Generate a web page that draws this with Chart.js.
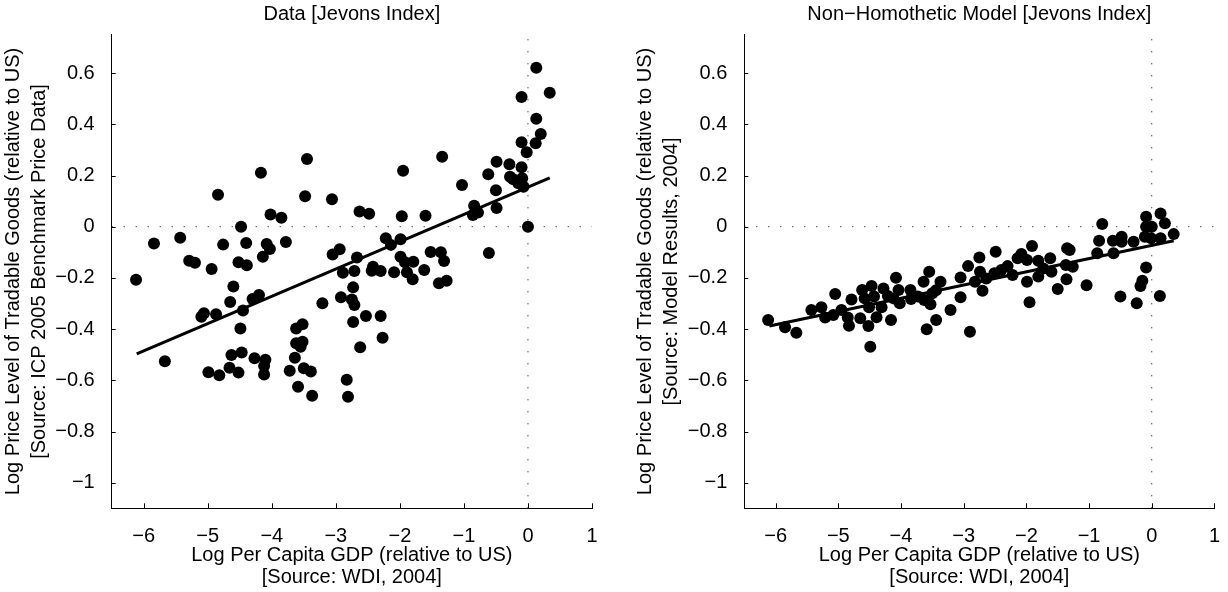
<!DOCTYPE html>
<html>
<head>
<meta charset="utf-8">
<title>Jevons Index: data vs model</title>
<script src="https://cdn.jsdelivr.net/npm/chart.js@4/dist/chart.umd.min.js"></script>
<style>
  body { margin: 0; background: #fff; }
  canvas { position: absolute; top: 0; }
</style>
</head>
<body>
<canvas id="dataChart" width="614" height="592" style="left:0"></canvas>
<canvas id="modelChart" width="614" height="592" style="left:614px"></canvas>
<script>
// AXES
var xTicks = [-6, -5, -4, -3, -2, -1, 0, 1];
var yTicks = [-1, -0.8, -0.6, -0.4, -0.2, 0, 0.2, 0.4, 0.6];
var xRange = [-6.5, 1];
var yRange = [-1.1, 0.75];

// LEFT PANEL - ICP 2005 data
var dataGdp = [-4.84, -4.17, -3.45, -3.48, -3.06, -2.63, -4.02, -3.85, -4.48, -5.84,
  -5.43, -4.76, -4.40, -4.08, -4.03, -3.78, -5.29, -5.20, -4.94, -4.52,
  -4.39, -4.14, -3.05, -2.94, -2.67, -6.12, -4.60, -2.89, -2.71, -2.73,
  -4.65, -4.30, -4.20, -4.45, -3.21, -2.92, -2.75, -2.71, -5.06, -5.10,
  -4.87, -4.49, -2.73, -3.62, -3.52, -3.62, -3.52, -3.55, -2.62, -5.67,
  -4.63, -4.47, -4.27, -4.10, -3.64, -4.99, -4.82, -4.66, -4.52, -4.12,
  -4.12, -3.72, -3.50, -3.39, -3.59, -3.37, -2.83, -2.81, 0.13, 0.34,
  -0.10, 0.13, 0.20, -0.10, 0.12, -0.02, -1.34, -0.49, -0.29, -0.10,
  -1.95, -0.62, -0.28, -0.23, -0.09, -0.15, -0.07, -1.03, -0.50, -2.48,
  -1.97, -1.60, -0.84, -0.86, -0.78, -0.49, 0.00, -2.22, -1.99, -2.14,
  -1.52, -1.36, -1.31, -0.61, -1.99, -1.92, -1.79, -2.42, -2.44, -2.30,
  -2.09, -1.89, -1.62, -1.80, -1.39, -1.27, -2.53, -2.30, -2.27];
var dataPrice = [0.125, 0.211, 0.264, 0.119, 0.107, 0.059, 0.048, 0.035, 0.000, -0.066,
  -0.043, -0.070, -0.064, -0.068, -0.087, -0.060, -0.133, -0.141, -0.165, -0.139,
  -0.151, -0.117, -0.109, -0.088, -0.120, -0.207, -0.234, -0.180, -0.173, -0.237,
  -0.294, -0.282, -0.267, -0.327, -0.299, -0.276, -0.284, -0.306, -0.338, -0.352,
  -0.342, -0.398, -0.372, -0.398, -0.381, -0.455, -0.449, -0.469, -0.471, -0.526,
  -0.501, -0.491, -0.514, -0.520, -0.512, -0.569, -0.580, -0.551, -0.570, -0.544,
  -0.577, -0.563, -0.553, -0.566, -0.625, -0.660, -0.598, -0.664, 0.621, 0.523,
  0.507, 0.422, 0.362, 0.330, 0.326, 0.291, 0.273, 0.254, 0.244, 0.232,
  0.219, 0.205, 0.195, 0.185, 0.189, 0.170, 0.156, 0.163, 0.142, 0.051,
  0.041, 0.043, 0.082, 0.046, 0.055, 0.073, 0.000, -0.045, -0.049, -0.071,
  -0.099, -0.100, -0.134, -0.103, -0.117, -0.139, -0.137, -0.156, -0.172, -0.173,
  -0.178, -0.178, -0.169, -0.205, -0.221, -0.211, -0.349, -0.349, -0.434];
var dataFitGdp = [-6.11, 0.34];
var dataFitPrice = [-0.497, 0.191];

// RIGHT PANEL - model results
var modelGdp = [-6.12, -5.85, -5.67, -5.43, -5.27, -5.21, -5.05, -5.08, -4.95, -4.85,
  -4.83, -4.79, -4.65, -4.62, -4.58, -4.52, -4.51, -4.47, -4.49, -4.39,
  -4.31, -4.43, -4.28, -4.16, -4.08, -4.04, -4.02, -4.12, -3.85, -3.84,
  -3.64, -3.55, -3.63, -3.53, -3.59, -3.44, -3.37, -3.50, -3.21, -4.21,
  -3.73, -3.44, -3.05, -2.90, -3.05, -2.93, -2.75, -2.74, -2.82, -2.70,
  -2.64, -2.49, -2.51, -2.40, -2.30, -2.22, -2.14, -2.08, -1.99, -1.99,
  -1.95, -1.91, -1.81, -1.81, -1.73, -1.62, -1.60, -1.50, -1.36, -1.37,
  -1.35, -1.31, -1.26, -1.04, -0.87, -0.84, -0.79, -0.62, -0.61, -0.48,
  -0.48, -0.50, -0.29, -0.24, -0.18, -0.15, -0.09, -0.09, -0.09, 0.00,
  -0.11, -0.01, 0.14, 0.21, 0.14, 0.35, 0.13];
var modelPrice = [-0.364, -0.393, -0.414, -0.325, -0.315, -0.355, -0.263, -0.345, -0.325, -0.355,
  -0.387, -0.284, -0.358, -0.247, -0.280, -0.388, -0.315, -0.232, -0.469, -0.354,
  -0.315, -0.273, -0.241, -0.364, -0.199, -0.247, -0.299, -0.280, -0.247, -0.282,
  -0.215, -0.176, -0.286, -0.303, -0.401, -0.364, -0.215, -0.260, -0.325, -0.271,
  -0.273, -0.248, -0.276, -0.410, -0.198, -0.154, -0.120, -0.176, -0.215, -0.250,
  -0.202, -0.098, -0.182, -0.169, -0.154, -0.189, -0.123, -0.107, -0.130, -0.215,
  -0.295, -0.075, -0.133, -0.195, -0.163, -0.123, -0.176, -0.243, -0.205, -0.150,
  -0.084, -0.091, -0.156, -0.229, -0.104, -0.055, 0.011, -0.055, -0.104, -0.039,
  -0.059, -0.273, -0.059, -0.299, -0.232, -0.211, -0.159, 0.039, 0.000, 0.000,
  -0.039, -0.045, 0.052, 0.013, -0.045, -0.029, -0.271];
var modelFitGdp = [-6.10, 0.35];
var modelFitPrice = [-0.388, -0.055];

var FONT = '"Liberation Sans", Arial, Helvetica, sans-serif';

function toPoints(xs, ys) {
  var pts = [];
  for (var i = 0; i < xs.length; i++) {
    pts.push({x: xs[i], y: ys[i]});
  }
  return pts;
}

// matlab style labels: real minus sign, no trailing zeros
function tickLabel(value) {
  return String(Math.round(value * 10) / 10).replace('-', '\u2212');
}

// matlab look: title centred on the axes, short ticks drawn inside
var matlabAxes = {
  id: 'matlabAxes',
  afterLayout: function (chart) {
    var t = chart.titleBlock;
    if (t) {
      t.left = chart.chartArea.left;
      t.right = chart.chartArea.right;
      t.width = t.right - t.left;
    }
  },
  afterDraw: function (chart) {
    var ctx = chart.ctx;
    var area = chart.chartArea;
    var xs = chart.scales.x;
    var ys = chart.scales.y;
    ctx.save();
    ctx.strokeStyle = '#000';
    ctx.lineWidth = 1;
    ctx.beginPath();
    xTicks.forEach(function (v) {
      var px = Math.round(xs.getPixelForValue(v)) + 0.5;
      ctx.moveTo(px, area.bottom);
      ctx.lineTo(px, area.bottom - 5);
    });
    yTicks.forEach(function (v) {
      var py = Math.round(ys.getPixelForValue(v)) + 0.5;
      ctx.moveTo(area.left, py);
      ctx.lineTo(area.left + 4, py);
    });
    ctx.stroke();
    ctx.restore();
  }
};

function dotted(xs, ys) {
  return {
    type: 'line',
    data: toPoints(xs, ys),
    borderColor: '#000',
    borderWidth: 1,
    borderDash: [1, 11],
    pointRadius: 0,
    fill: false
  };
}

function makeChart(id, title, yTitle, gdp, price, fitGdp, fitPrice, pad) {
  return new Chart(document.getElementById(id), {
    type: 'scatter',
    data: {
      datasets: [
        {type: 'line', data: toPoints(fitGdp, fitPrice), borderColor: '#000', borderWidth: 3, pointRadius: 0, fill: false},
        {data: toPoints(gdp, price), backgroundColor: '#000', borderWidth: 0, pointRadius: 6, pointHoverRadius: 6},
        dotted(xRange, [0, 0]),
        dotted([0, 0], yRange)
      ]
    },
    options: {
      responsive: false,
      animation: false,
      events: [],
      layout: {padding: pad},
      plugins: {
        legend: {display: false},
        tooltip: {enabled: false},
        title: {
          display: true,
          text: title,
          color: '#000',
          font: {family: FONT, size: 20, weight: 'normal', lineHeight: 1.2},
          padding: {top: 2, bottom: 8.7}
        }
      },
      scales: {
        x: {
          type: 'linear',
          min: xRange[0],
          max: xRange[1],
          grid: {display: false},
          border: {display: true, color: '#000', width: 1},
          afterBuildTicks: function (s) { s.ticks = xTicks.map(function (v) { return {value: v}; }); },
          afterFit: function (s) { s.height = 83.7; },
          ticks: {color: '#000', font: {family: FONT, size: 20}, padding: 8, autoSkip: false, maxRotation: 0, callback: tickLabel},
          title: {
            display: true,
            text: ['Log Per Capita GDP (relative to US)', '[Source: WDI, 2004]'],
            color: '#000',
            font: {family: FONT, size: 20, lineHeight: 1.1},
            padding: {top: 0, bottom: 4}
          }
        },
        y: {
          type: 'linear',
          min: yRange[0],
          max: yRange[1],
          grid: {display: false},
          border: {display: true, color: '#000', width: 1},
          afterBuildTicks: function (s) { s.ticks = yTicks.map(function (v) { return {value: v}; }); },
          afterFit: function (s) { s.width = 111.7; },
          ticks: {color: '#000', font: {family: FONT, size: 20}, padding: 9, autoSkip: false, callback: tickLabel},
          title: {
            display: true,
            text: yTitle,
            color: '#000',
            font: {family: FONT, size: 20, lineHeight: 1.3},
            padding: {top: 0, bottom: 0}
          }
        }
      }
    },
    plugins: [matlabAxes]
  });
}

makeChart('dataChart', 'Data [Jevons Index]',
  ['Log Price Level of Tradable Goods (relative to US)', '[Source: ICP 2005 Benchmark Price Data]'],
  dataGdp, dataPrice, dataFitGdp, dataFitPrice, {left: 0, right: 22, top: 0, bottom: 0});

makeChart('modelChart', 'Non\u2212Homothetic Model [Jevons Index]',
  ['Log Price Level of Tradable Goods (relative to US)', '[Source: Model Results, 2004]'],
  modelGdp, modelPrice, modelFitGdp, modelFitPrice, {left: 18.6, right: 3.4, top: 0, bottom: 0});
</script>
</body>
</html>
